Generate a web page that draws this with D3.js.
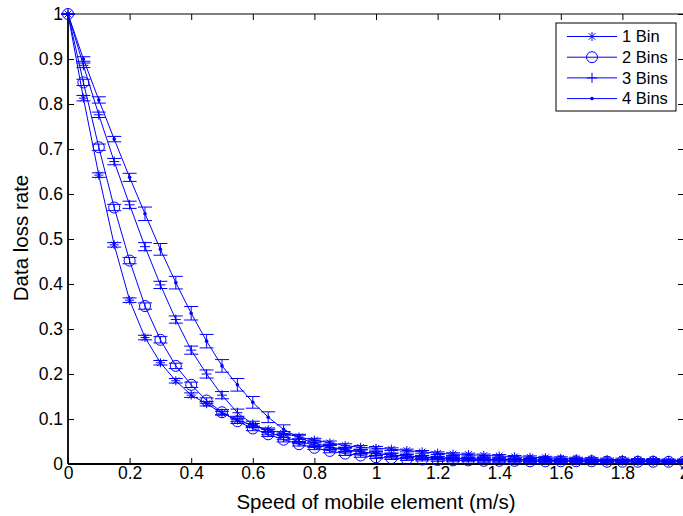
<!DOCTYPE html>
<html lang="en">
<head>
  <meta charset="UTF-8">
  <title>Data loss rate vs speed of mobile element</title>
  <script src="https://d3js.org/d3.v7.min.js"></script>
  <style>
    body { margin: 0; background: #fff; }
    svg { display: block; font-family: "Liberation Sans", Arial, Helvetica, sans-serif; }
    .axis text { font-size: 17.5px; fill: #000; }
    .axis line { stroke: #000; stroke-width: 1px; }
    .series path.line { fill: none; stroke: #0000ff; stroke-width: 1px; }
    .err { stroke: #0000ff; stroke-width: 1px; }
    .mark { stroke: #0000ff; stroke-width: 1px; fill: none; }
  </style>
</head>
<body>
<svg></svg>
<script>
// speed of mobile element (m/s)
const speed = [0, 0.05, 0.1, 0.15, 0.2, 0.25, 0.3, 0.35, 0.4, 0.45, 0.5, 0.55, 0.6, 0.65, 0.7, 0.75, 0.8, 0.85, 0.9, 0.95,
  1, 1.05, 1.1, 1.15, 1.2, 1.25, 1.3, 1.35, 1.4, 1.45, 1.5, 1.55, 1.6, 1.65, 1.7, 1.75, 1.8, 1.85, 1.9, 1.95, 2];

// data loss rate per series, and error bar half-lengths
const bin1 = [1, 0.813, 0.642, 0.487, 0.364, 0.281, 0.225, 0.185, 0.153, 0.134, 0.113, 0.098, 0.086, 0.076, 0.068, 0.060, 0.053, 0.047, 0.041, 0.037,
  0.035, 0.033, 0.030, 0.027, 0.024, 0.022, 0.021, 0.019, 0.018, 0.016, 0.015, 0.014, 0.013, 0.012, 0.011, 0.010, 0.010, 0.009, 0.009, 0.008, 0.008];
const bin1Err = [0, 0.006, 0.005, 0.005, 0.005, 0.005, 0.005, 0.005, 0.005, 0.005, 0.004, 0.004, 0.004, 0.004, 0.004, 0.004, 0.004, 0.004, 0.004, 0.004,
  0.004, 0.003, 0.003, 0.003, 0.003, 0.003, 0.003, 0.003, 0.003, 0.003, 0.003, 0.003, 0.003, 0.003, 0.003, 0.003, 0.003, 0.003, 0.003, 0.003, 0.003];

const bin2 = [1, 0.848, 0.704, 0.570, 0.452, 0.351, 0.276, 0.218, 0.176, 0.141, 0.115, 0.095, 0.079, 0.066, 0.054, 0.044, 0.036, 0.029, 0.023, 0.019,
  0.015, 0.013, 0.011, 0.010, 0.009, 0.008, 0.008, 0.007, 0.007, 0.007, 0.006, 0.006, 0.006, 0.006, 0.006, 0.005, 0.005, 0.005, 0.005, 0.005, 0.005];
const bin2Err = [0, 0.007, 0.007, 0.007, 0.007, 0.007, 0.007, 0.006, 0.006, 0.006, 0.006, 0.005, 0.005, 0.005, 0.005, 0.004, 0.004, 0.004, 0.004, 0.004,
  0.003, 0.003, 0.003, 0.003, 0.003, 0.003, 0.003, 0.003, 0.003, 0.003, 0.003, 0.003, 0.003, 0.003, 0.003, 0.003, 0.003, 0.003, 0.003, 0.003, 0.003];

const bin3 = [1, 0.886, 0.776, 0.672, 0.576, 0.483, 0.398, 0.321, 0.253, 0.200, 0.153, 0.114, 0.088, 0.071, 0.060, 0.050, 0.042, 0.036, 0.031, 0.027,
  0.023, 0.020, 0.018, 0.016, 0.014, 0.013, 0.012, 0.011, 0.010, 0.010, 0.009, 0.009, 0.008, 0.008, 0.008, 0.007, 0.007, 0.007, 0.007, 0.006, 0.006];
const bin3Err = [0, 0.005, 0.006, 0.007, 0.008, 0.009, 0.008, 0.008, 0.009, 0.009, 0.008, 0.008, 0.007, 0.006, 0.006, 0.005, 0.005, 0.005, 0.004, 0.004,
  0.004, 0.004, 0.004, 0.003, 0.003, 0.003, 0.003, 0.003, 0.003, 0.003, 0.003, 0.003, 0.003, 0.003, 0.003, 0.003, 0.003, 0.003, 0.003, 0.003, 0.003];

const bin4 = [1, 0.900, 0.809, 0.722, 0.637, 0.556, 0.477, 0.403, 0.335, 0.273, 0.218, 0.176, 0.137, 0.104, 0.077, 0.058, 0.046, 0.038, 0.032, 0.027,
  0.023, 0.020, 0.017, 0.015, 0.013, 0.012, 0.011, 0.010, 0.010, 0.009, 0.009, 0.008, 0.008, 0.008, 0.007, 0.007, 0.007, 0.007, 0.006, 0.006, 0.006];
const bin4Err = [0, 0.005, 0.007, 0.006, 0.009, 0.015, 0.013, 0.014, 0.015, 0.015, 0.014, 0.014, 0.013, 0.012, 0.010, 0.008, 0.007, 0.006, 0.005, 0.005,
  0.004, 0.004, 0.004, 0.004, 0.003, 0.003, 0.003, 0.003, 0.003, 0.003, 0.003, 0.003, 0.003, 0.003, 0.003, 0.003, 0.003, 0.003, 0.003, 0.003, 0.003];

const seriesNames = ["1 Bin", "2 Bins", "3 Bins", "4 Bins"];
const markerTypes = ["star", "circle", "plus", "dot"];

const xTicks = [0, 0.2, 0.4, 0.6, 0.8, 1, 1.2, 1.4, 1.6, 1.8, 2];
const yTicks = [0, 0.1, 0.2, 0.3, 0.4, 0.5, 0.6, 0.7, 0.8, 0.9, 1];

const width = 683;
const height = 516;

const svg = d3.select("svg")
    .attr("width", width)
    .attr("height", height);

// the right edge of the axes sits just past the window, as in the original figure
const x = d3.scaleLinear().domain([0, 2]).range([68, 684]);
const y = d3.scaleLinear().domain([0, 1]).range([464, 14]);

const series = [
  { name: seriesNames[0], marker: markerTypes[0], values: bin1, err: bin1Err },
  { name: seriesNames[1], marker: markerTypes[1], values: bin2, err: bin2Err },
  { name: seriesNames[2], marker: markerTypes[2], values: bin3, err: bin3Err },
  { name: seriesNames[3], marker: markerTypes[3], values: bin4, err: bin4Err }
];

// axes, ticks pointing inwards like matlab
svg.append("g")
    .attr("class", "axis")
    .attr("transform", `translate(0,${y(0)})`)
    .call(d3.axisBottom(x).tickValues(xTicks).tickFormat(d => String(d))
      .tickSizeInner(-6).tickSizeOuter(0).tickPadding(3))
    .call(g => g.select(".domain").remove());

svg.append("g")
    .attr("class", "axis")
    .attr("transform", `translate(${x(0)},0)`)
    .call(d3.axisLeft(y).tickValues(yTicks).tickFormat(d => String(d))
      .tickSizeInner(-6).tickSizeOuter(0).tickPadding(5))
    .call(g => g.select(".domain").remove());

svg.append("g")
    .attr("class", "axis")
    .attr("transform", `translate(0,${y(1)})`)
    .call(d3.axisTop(x).tickValues(xTicks).tickFormat("").tickSizeInner(-6).tickSizeOuter(0))
    .call(g => g.select(".domain").remove());

svg.append("g")
    .attr("class", "axis")
    .attr("transform", `translate(${x(2)},0)`)
    .call(d3.axisRight(y).tickValues(yTicks).tickFormat("").tickSizeInner(-6).tickSizeOuter(0))
    .call(g => g.select(".domain").remove());

// box
svg.append("line").attr("x1", x(0)).attr("x2", x(2)).attr("y1", y(1)).attr("y2", y(1))
    .attr("stroke", "#000").attr("stroke-width", 1.2);
svg.append("line").attr("x1", x(2)).attr("x2", x(2)).attr("y1", y(1)).attr("y2", y(0))
    .attr("stroke", "#000").attr("stroke-width", 1.2);
svg.append("line").attr("x1", x(0)).attr("x2", x(2)).attr("y1", y(0)).attr("y2", y(0))
    .attr("stroke", "#000").attr("stroke-width", 1.8);
svg.append("line").attr("x1", x(0)).attr("x2", x(0)).attr("y1", y(1)).attr("y2", y(0))
    .attr("stroke", "#000").attr("stroke-width", 1.8);

function markerPath(type, cx, cy) {
  if (type === "star") {
    const r = 4.5, d = 3.3;
    return `M${cx - r},${cy}H${cx + r}M${cx},${cy - r}V${cy + r}` +
           `M${cx - d},${cy - d}L${cx + d},${cy + d}M${cx - d},${cy + d}L${cx + d},${cy - d}`;
  }
  if (type === "plus") {
    const r = 5;
    return `M${cx - r},${cy}H${cx + r}M${cx},${cy - r}V${cy + r}`;
  }
  return null;
}

function drawMarker(sel, type, cx, cy) {
  if (type === "circle") {
    sel.append("circle").attr("class", "mark").attr("cx", cx).attr("cy", cy).attr("r", 5.5);
  } else if (type === "dot") {
    sel.append("circle").attr("cx", cx).attr("cy", cy).attr("r", 1.8).attr("fill", "#0000ff");
  } else {
    sel.append("path").attr("class", "mark").attr("d", markerPath(type, cx, cy));
  }
}

const line = d3.line()
    .x((d, i) => x(speed[i]))
    .y(d => y(d));

const capW = 7;

series.forEach(s => {
  const g = svg.append("g").attr("class", "series");

  // error bars
  const bars = g.selectAll("g.bar")
    .data(s.values.map((v, i) => ({ sx: speed[i], v: v, e: s.err[i] })))
    .join("g")
    .attr("class", "bar");
  bars.append("line").attr("class", "err")
      .attr("x1", d => x(d.sx)).attr("x2", d => x(d.sx))
      .attr("y1", d => y(d.v - d.e)).attr("y2", d => y(d.v + d.e));
  bars.append("line").attr("class", "err")
      .attr("x1", d => x(d.sx) - capW).attr("x2", d => x(d.sx) + capW)
      .attr("y1", d => y(d.v - d.e)).attr("y2", d => y(d.v - d.e));
  bars.append("line").attr("class", "err")
      .attr("x1", d => x(d.sx) - capW).attr("x2", d => x(d.sx) + capW)
      .attr("y1", d => y(d.v + d.e)).attr("y2", d => y(d.v + d.e));

  g.append("path")
      .attr("class", "line")
      .attr("d", line(s.values));

  s.values.forEach((v, i) => drawMarker(g, s.marker, x(speed[i]), y(v)));
});

// legend
const legend = svg.append("g").attr("transform", "translate(556,23)");
legend.append("rect")
    .attr("width", 120).attr("height", 88)
    .attr("fill", "#fff").attr("stroke", "#000").attr("stroke-width", 1);

series.forEach((s, i) => {
  const ly = 13.5 + i * 20.7;
  const row = legend.append("g");
  row.append("line")
      .attr("x1", 11).attr("x2", 61).attr("y1", ly).attr("y2", ly)
      .attr("stroke", "#0000ff").attr("stroke-width", 1);
  drawMarker(row, s.marker, 36, ly);
  row.append("text")
      .attr("x", 66).attr("y", ly).attr("dy", "0.35em")
      .attr("font-size", 16.5)
      .text(s.name);
});

// axis labels
svg.append("text")
    .attr("x", 376).attr("y", 509)
    .attr("text-anchor", "middle")
    .attr("font-size", 20.5)
    .text("Speed of mobile element (m/s)");

svg.append("text")
    .attr("transform", "translate(28,238) rotate(-90)")
    .attr("text-anchor", "middle")
    .attr("font-size", 20.5)
    .text("Data loss rate");
</script>
</body>
</html>
